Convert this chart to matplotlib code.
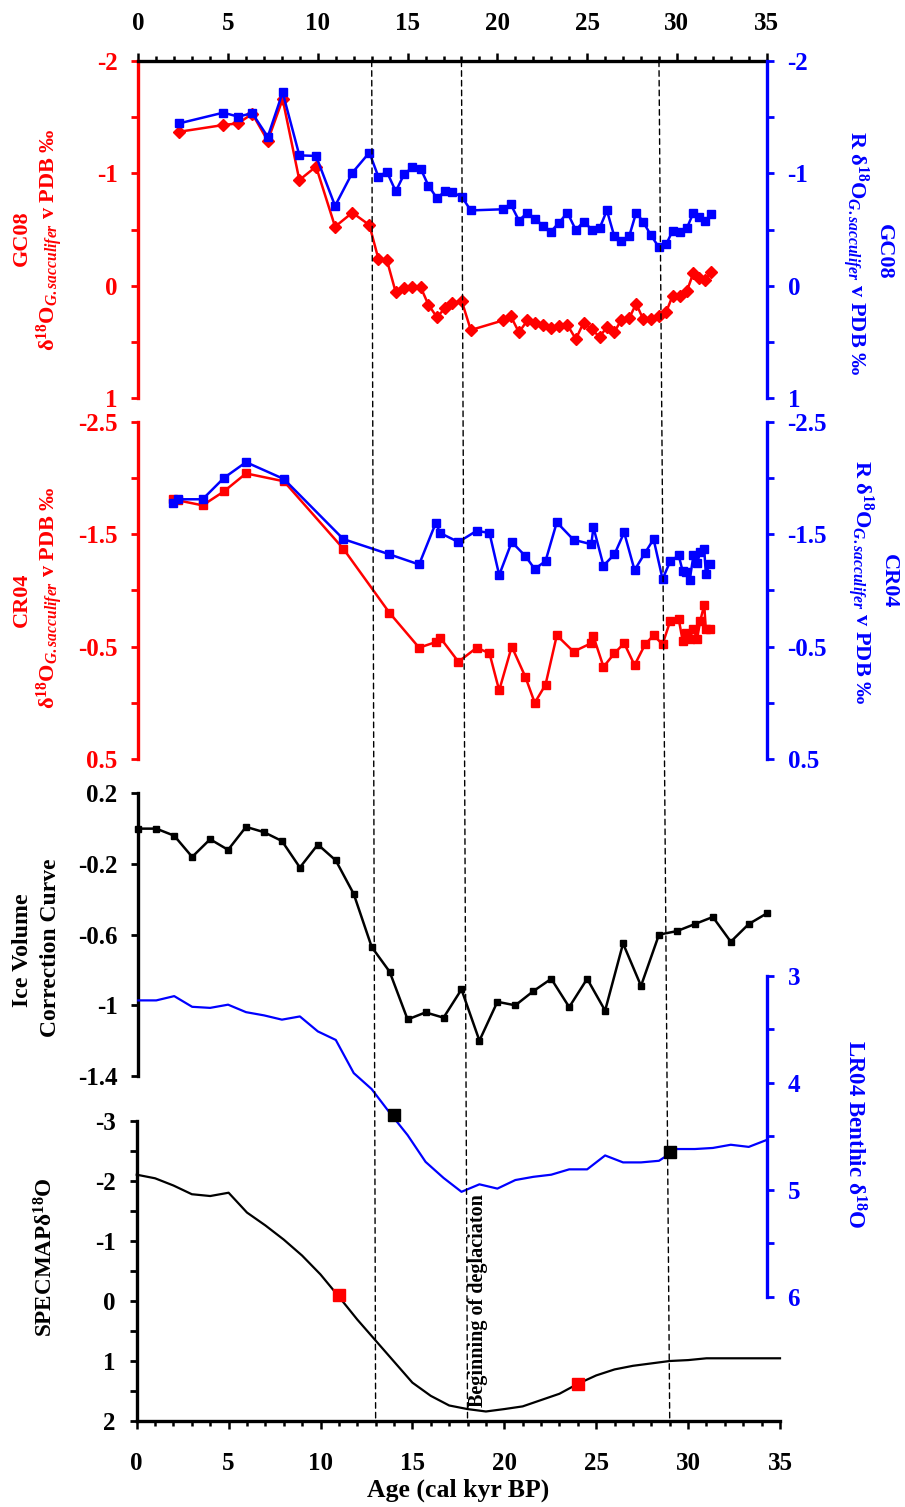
import matplotlib.pyplot as plt
from matplotlib.patches import ConnectionPatch
from matplotlib.ticker import MultipleLocator

plt.rcParams['font.family'] = ['Liberation Serif', 'DejaVu Serif']
plt.rcParams['font.weight'] = 'bold'
plt.rcParams['axes.unicode_minus'] = False
plt.rcParams['mathtext.fontset'] = 'custom'
plt.rcParams['mathtext.rm'] = 'Liberation Serif:bold'
plt.rcParams['mathtext.it'] = 'Liberation Serif:italic:bold'
plt.rcParams['mathtext.bf'] = 'Liberation Serif:bold'

# GC08 core
gc08_age = [2.28, 4.73, 5.56, 6.35, 7.21, 8.04, 8.97, 9.90, 10.96, 11.92, 12.87, 13.37, 13.84,
            14.34, 14.80, 15.27, 15.73, 16.16, 16.63, 17.09, 17.47, 18.02, 18.52, 20.30, 20.74,
            21.20, 21.67, 22.10, 22.52, 22.97, 23.43, 23.90, 24.37, 24.80, 25.26, 25.69, 26.10,
            26.51, 26.88, 27.34, 27.73, 28.11, 28.55, 28.98, 29.41, 29.76, 30.19, 30.56, 30.92,
            31.21, 31.58, 31.91]
gc08_d18o = [-1.37, -1.43, -1.445, -1.53, -1.29, -1.66, -0.94, -1.06, -0.525, -0.65, -0.54, -0.24,
             -0.23, 0.06, 0.025, 0.015, 0.015, 0.17, 0.28, 0.20, 0.15, 0.14, 0.395, 0.31, 0.27,
             0.415, 0.31, 0.33, 0.35, 0.38, 0.355, 0.35, 0.475, 0.33, 0.39, 0.455, 0.37, 0.415,
             0.31, 0.29, 0.16, 0.295, 0.295, 0.27, 0.23, 0.09, 0.095, 0.045, -0.115, -0.065,
             -0.05, -0.125]
gc08_r_d18o = [-1.445, -1.54, -1.505, -1.535, -1.325, -1.72, -1.16, -1.155, -0.71, -1.005, -1.185,
               -0.97, -1.015, -0.84, -0.99, -1.055, -1.04, -0.89, -0.78, -0.84, -0.835, -0.79,
               -0.67, -0.68, -0.725, -0.58, -0.65, -0.595, -0.535, -0.48, -0.56, -0.65, -0.495,
               -0.57, -0.50, -0.51, -0.67, -0.44, -0.40, -0.44, -0.65, -0.57, -0.45, -0.345,
               -0.37, -0.49, -0.48, -0.515, -0.65, -0.61, -0.58, -0.635]

# CR04 core
cr04_age = [1.94, 2.22, 3.58, 4.77, 6.00, 8.11, 11.42, 13.99, 15.64, 16.57, 16.81, 17.83, 18.85,
            19.56, 20.10, 20.80, 21.56, 22.08, 22.68, 23.31, 24.24, 25.23, 25.35, 25.91, 26.52,
            27.06, 27.64, 28.23, 28.70, 29.20, 29.63, 30.10, 30.32, 30.52, 30.71, 30.92, 31.12,
            31.30, 31.52, 31.61, 31.82]
cr04_d18o = [-1.81, -1.80, -1.756, -1.88, -2.04, -1.97, -1.37, -0.80, -0.49, -0.54, -0.58, -0.365,
             -0.49, -0.44, -0.11, -0.50, -0.23, 0.0, -0.16, -0.60, -0.455, -0.53, -0.59, -0.32,
             -0.44, -0.53, -0.335, -0.52, -0.60, -0.52, -0.73, -0.745, -0.55, -0.62, -0.565,
             -0.66, -0.565, -0.73, -0.87, -0.655, -0.655]
cr04_r_d18o = [-1.774, -1.81, -1.81, -2.0, -2.14, -1.99, -1.456, -1.32, -1.23, -1.60, -1.51,
               -1.43, -1.53, -1.51, -1.136, -1.43, -1.305, -1.19, -1.26, -1.605, -1.45, -1.41,
               -1.56, -1.22, -1.32, -1.515, -1.18, -1.335, -1.455, -1.10, -1.26, -1.31, -1.17,
               -1.16, -1.09, -1.31, -1.24, -1.34, -1.37, -1.145, -1.23]

# ice volume correction and LR04 stack (1 kyr steps)
ice_age = [0, 1, 2, 3, 4, 5, 6, 7, 8, 9, 10, 11, 12, 13, 14, 15, 16, 17, 18, 19, 20, 21, 22, 23,
           24, 25, 26, 27, 28, 29, 30, 31, 32, 33, 34, 35]
ice_corr = [0.0, 0.0, -0.04, -0.16, -0.06, -0.12, 0.01, -0.02, -0.07, -0.22, -0.09, -0.18, -0.37,
            -0.67, -0.81, -1.08, -1.04, -1.07, -0.91, -1.20, -0.98, -1.00, -0.92, -0.85, -1.01,
            -0.85, -1.03, -0.65, -0.89, -0.60, -0.58, -0.54, -0.50, -0.64, -0.54, -0.48]
lr04 = [3.23, 3.23, 3.19, 3.29, 3.30, 3.27, 3.34, 3.37, 3.41, 3.38, 3.52, 3.60, 3.91, 4.06, 4.28,
        4.49, 4.74, 4.89, 5.02, 4.95, 4.99, 4.91, 4.88, 4.86, 4.81, 4.81, 4.68, 4.745, 4.745,
        4.73, 4.62, 4.62, 4.61, 4.58, 4.60, 4.535]

# SPECMAP
spec_age = [0, 1, 2, 3, 4, 5, 6, 7, 8, 9, 10, 11, 12, 13, 14, 15, 16, 17, 18, 19, 20, 21, 22, 23,
            24, 25, 26, 27, 28, 29, 30, 31, 32, 33, 34, 35]
spec_d18o = [-2.10, -2.04, -1.92, -1.775, -1.745, -1.80, -1.47, -1.256, -1.02, -0.754, -0.44,
             -0.07, 0.31, 0.66, 1.01, 1.36, 1.58, 1.74, 1.80, 1.84, 1.80, 1.755, 1.65, 1.545,
             1.38, 1.24, 1.14, 1.08, 1.04, 1.00, 0.985, 0.955, 0.955, 0.955, 0.955, 0.955]
red_pts_age = [11, 24]
red_pts_val = [-0.1, 1.376]
black_pts_age = [14, 29]
black_pts_val = [-3.1, -2.47]

event_ages = [13, 18, 29]

x_ticks = [0, 5, 10, 15, 20, 25, 30, 35]
gc_ticks = [-2, -1.5, -1, -0.5, 0, 0.5, 1]
gc_labels = ['-2', '', '-1', '', '0', '', '1']
cr_ticks = [-2.5, -2, -1.5, -1, -0.5, 0, 0.5]
cr_labels = ['-2.5', '', '-1.5', '', '-0.5', '', '0.5']
ice_ticks = [0.2, -0.2, -0.6, -1, -1.4]
ice_labels = ['0.2', '-0.2', '-0.6', '-1', '-1.4']
lr_ticks = [3, 3.5, 4, 4.5, 5, 5.5, 6]
lr_labels = ['3', '', '4', '', '5', '', '6']
spec_ticks = [-3, -2.5, -2, -1.5, -1, -0.5, 0, 0.5, 1, 1.5, 2]
spec_labels = ['-3', '', '-2', '', '-1', '', '0', '', '1', '', '2']

RED = '#ff0000'
BLUE = '#0000ff'
W, H = 905, 1507
FS = 18

fig = plt.figure(figsize=(W / 100, H / 100), dpi=100)


def box(x0, y0, x1, y1):
    return [x0 / W, 1 - y1 / H, (x1 - x0) / W, (y1 - y0) / H]


def yaxis_style(ax, side, color, ticks, labels, lim):
    for s in ax.spines.values():
        s.set_visible(False)
    ax.spines[side].set_visible(True)
    ax.spines[side].set_color(color)
    ax.spines[side].set_linewidth(2.4)
    ax.patch.set_visible(False)
    ax.set_ylim(lim)
    ax.yaxis.set_ticks_position(side)
    ax.set_yticks(ticks)
    ax.set_yticklabels(labels)
    ax.tick_params(axis='y', colors=color, direction='out', length=5, width=2,
                   labelsize=FS, pad=10)
    ax.set_xlim(0, 35)


def hide_x(ax):
    ax.tick_params(axis='x', which='both', top=False, bottom=False,
                   labeltop=False, labelbottom=False)


# GC08 panel
ax1 = fig.add_axes(box(138.3, 61, 766.7, 398))
ax1r = ax1.twinx()
yaxis_style(ax1, 'left', RED, gc_ticks, gc_labels, (1, -2))
yaxis_style(ax1r, 'right', BLUE, gc_ticks, gc_labels, (1, -2))
ax1.spines['top'].set_visible(True)
ax1.spines['top'].set_linewidth(2.4)
ax1.xaxis.set_ticks_position('top')
ax1.set_xticks(x_ticks)
ax1.xaxis.set_minor_locator(MultipleLocator(1))
ax1.tick_params(axis='x', which='major', direction='out', length=6, width=1.8,
                labelsize=FS, pad=13)
ax1.tick_params(axis='x', which='minor', direction='out', length=3.5, width=1.8)
ax1.plot(gc08_age, gc08_d18o, color=RED, marker='D', ms=6, lw=1.8, clip_on=False)
ax1r.plot(gc08_age, gc08_r_d18o, color=BLUE, marker='s', ms=6, lw=1.8, clip_on=False)

# CR04 panel
ax2 = fig.add_axes(box(138.3, 421.7, 766.7, 759))
ax2r = ax2.twinx()
yaxis_style(ax2, 'left', RED, cr_ticks, cr_labels, (0.5, -2.5))
yaxis_style(ax2r, 'right', BLUE, cr_ticks, cr_labels, (0.5, -2.5))
hide_x(ax2)
ax2.plot(cr04_age, cr04_d18o, color=RED, marker='s', ms=6, lw=1.8, clip_on=False)
ax2r.plot(cr04_age, cr04_r_d18o, color=BLUE, marker='s', ms=6, lw=1.8, clip_on=False)

# ice volume correction panel
ax3 = fig.add_axes(box(138.3, 793.3, 766.7, 1076))
yaxis_style(ax3, 'left', 'black', ice_ticks, ice_labels, (-1.4, 0.2))
hide_x(ax3)
ax3.plot(ice_age, ice_corr, color='black', marker='s', ms=5, lw=1.8, clip_on=False)

# LR04 benthic stack
axl = fig.add_axes(box(138.3, 975.8, 766.7, 1296.6))
yaxis_style(axl, 'right', BLUE, lr_ticks, lr_labels, (6, 3))
hide_x(axl)
axl.plot(ice_age, lr04, color=BLUE, lw=1.6, clip_on=False)

# SPECMAP panel
ax4 = fig.add_axes(box(136.7, 1120.6, 780, 1421.1))
yaxis_style(ax4, 'left', 'black', spec_ticks, spec_labels, (2, -3))
ax4.spines['bottom'].set_visible(True)
ax4.spines['bottom'].set_linewidth(2.4)
ax4.set_xticks(x_ticks)
ax4.xaxis.set_minor_locator(MultipleLocator(1))
ax4.tick_params(axis='x', which='major', direction='out', length=6, width=1.8,
                labelsize=FS, pad=16)
ax4.tick_params(axis='x', which='minor', direction='out', length=3.5, width=1.8)
ax4.plot(spec_age, spec_d18o, color='black', lw=1.6, clip_on=False)
ax4.plot(red_pts_age, red_pts_val, ls='none', marker='s', ms=9, color=RED, clip_on=False, zorder=5)
ax4.plot(black_pts_age, black_pts_val, ls='none', marker='s', ms=9, color='black',
         clip_on=False, zorder=5)

# event lines from top axis to bottom axis
for a in event_ages:
    con = ConnectionPatch(xyA=(a, -2), coordsA=ax1.transData, xyB=(a, 2), coordsB=ax4.transData,
                          color='black', lw=1, linestyle=(0, (4, 3)))
    fig.add_artist(con)


def ftext(px, py, s, **kw):
    kw.setdefault('fontsize', 16)
    kw.setdefault('ha', 'center')
    kw.setdefault('va', 'center')
    fig.text(px / W, 1 - py / H, s, **kw)


sub = r'$^{18}$O$_{G.sacculifer}$ v PDB ‰'
ftext(22, 238, 'GC08', color=RED, rotation=90)
ftext(50, 240, 'δ' + sub, color=RED, rotation=90)
ftext(884, 252, 'GC08', color=BLUE, rotation=270)
ftext(855, 253, 'R δ' + sub, color=BLUE, rotation=270)
ftext(22, 600, 'CR04', color=RED, rotation=90)
ftext(50, 598, 'δ' + sub, color=RED, rotation=90)
ftext(889, 581, 'CR04', color=BLUE, rotation=270)
ftext(860, 582, 'R δ' + sub, color=BLUE, rotation=270)
ftext(22, 950, 'Ice Volume', rotation=90, fontsize=17.2)
ftext(50, 948, 'Correction Curve', rotation=90, fontsize=17)
ftext(46, 1257, r'SPECMAPδ$^{18}$O', rotation=90, fontsize=16.7)
ftext(854, 1134, r'LR04 Benthic δ$^{18}$O', color=BLUE, rotation=270, fontsize=16.5)
ftext(458, 1490, 'Age (cal kyr BP)', fontsize=18.5)
ftext(478, 1301, 'Beginning of deglaciaton', rotation=90, fontsize=14.5)

fig.savefig('out.png', dpi=100)
